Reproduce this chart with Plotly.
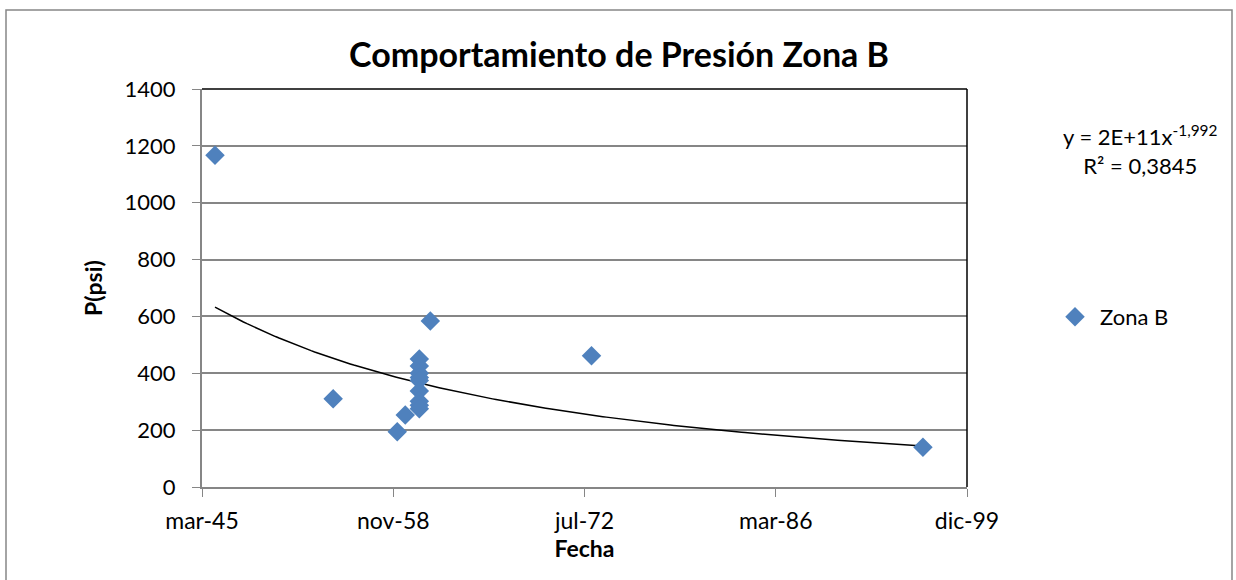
import numpy as np
import plotly.graph_objects as go

# Excel date serial numbers (days) and pressure values
fecha_serial = [16840, 19929, 21605, 21814, 22181, 22181, 22181, 22181, 22181,
                22181, 22181, 22181, 22181, 22469, 26683, 35348]
presion_psi = [1167, 310, 194, 253, 450, 426, 400, 385, 375, 338, 302, 288,
               275, 584, 462, 140]

tick_vals = [16500, 21500, 26500, 31500, 36500]
tick_text = ["mar-45", "nov-58", "jul-72", "mar-86", "dic-99"]

# power trendline y = a * x^b (Excel display: y = 2E+11x^-1,992)
coef_a = 1.66e11
coef_b = -1.992

W, H = 1236, 580
L, R, T, B = 202, 967, 89, 487
FONT = "Lato"

x_trend = np.linspace(min(fecha_serial), max(fecha_serial), 200)
y_trend = coef_a * x_trend ** coef_b

fig = go.Figure()
fig.add_trace(go.Scatter(
    x=x_trend, y=y_trend, mode="lines",
    line=dict(color="black", width=1.5), showlegend=False, hoverinfo="skip"))
fig.add_trace(go.Scatter(
    x=fecha_serial, y=presion_psi, mode="markers", name="Zona B",
    marker=dict(symbol="diamond", size=15, color="#4F81BD")))

def px_x(p):
    return (p - L) / (R - L)

def px_y(p):
    return (B - p) / (B - T)

fig.update_layout(
    width=W, height=H,
    margin=dict(l=L, r=W - R, t=T, b=H - B),
    paper_bgcolor="white", plot_bgcolor="white",
    font=dict(family=FONT, size=22, color="black"),
    title=dict(text="<b>Comportamiento de Presión Zona B</b>",
               x=619 / W, xanchor="center",
               y=1 - 55 / H, yanchor="middle",
               font=dict(size=34, family=FONT)),
    xaxis=dict(range=[16500, 36500], tickmode="array", tickvals=tick_vals,
               ticktext=tick_text, showgrid=False, zeroline=False,
               showline=True, linecolor="#868686", linewidth=2,
               ticks="outside", ticklen=8, tickcolor="#868686",
               tickfont=dict(size=23), ticklabelstandoff=4,
               title=dict(text="<b>Fecha</b>", font=dict(size=23), standoff=0)),
    yaxis=dict(range=[0, 1400], dtick=200, showgrid=True, gridcolor="#868686",
               gridwidth=1.5, zeroline=False, showline=True, linecolor="#868686",
               linewidth=2, ticks="outside", ticklen=8, tickcolor="#868686",
               tickfont=dict(size=22), ticklabelstandoff=12,
               title=dict(text="<b>P(psi)</b>", font=dict(size=23), standoff=16)),
    legend=dict(x=px_x(1050), y=px_y(317), xanchor="left", yanchor="middle",
                itemwidth=40, font=dict(size=22), bgcolor="rgba(0,0,0,0)"),
    shapes=[
        dict(type="rect", xref="paper", yref="paper",
             x0=px_x(6), x1=px_x(1232), y0=px_y(620), y1=px_y(10),
             line=dict(color="#868686", width=1.5), layer="below"),
        dict(type="line", xref="paper", yref="paper", x0=0, x1=1, y0=1, y1=1,
             line=dict(color="black", width=1.5)),
        dict(type="line", xref="paper", yref="paper", x0=1, x1=1, y0=0, y1=1,
             line=dict(color="black", width=1.5)),
    ],
    annotations=[
        dict(text="y = 2E+11x<sup>-1,992</sup><br>R² = 0,3845",
             xref="paper", yref="paper", x=px_x(1140), y=px_y(150),
             xanchor="center", yanchor="middle", showarrow=False,
             align="center", font=dict(size=22, family=FONT)),
    ],
)

fig.write_html("out.html",
               config={"displayModeBar": False},
               post_script="document.body.style.margin='0';")
